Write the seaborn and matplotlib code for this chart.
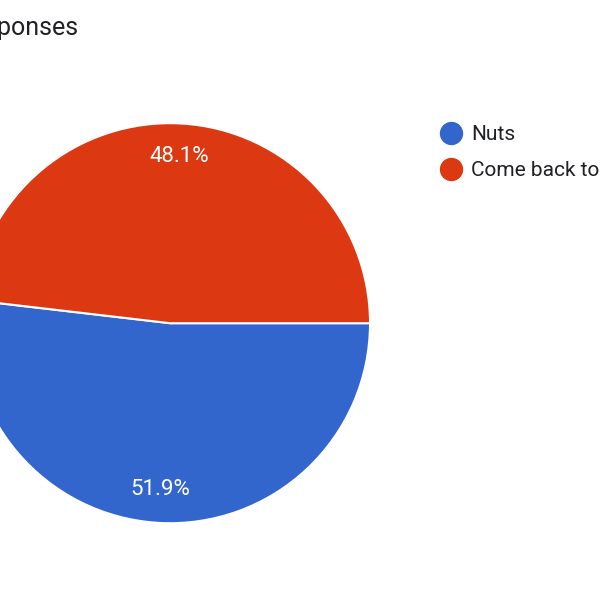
import matplotlib
matplotlib.use("Agg")
import matplotlib.pyplot as plt
from matplotlib.lines import Line2D
import seaborn as sns

# --- Data ---
labels = ["Nuts", "Come back to later"]
counts = [14, 13]  # 51.9% / 48.1% of 27 responses
colors = ["#3366CC", "#DC3912"]
title = "27 responses"

sns.set_theme(style="white")
plt.rcParams["font.family"] = ["Roboto", "DejaVu Sans"]

fig = plt.figure(figsize=(6, 6), dpi=100)
fig.patch.set_facecolor("white")

# pie centre at ~(170, 323) px, radius ~200 px (left side runs off the canvas)
ax = fig.add_axes([-0.05, 0.128, 0.6667, 0.6667])
wedges, texts, autotexts = ax.pie(
    counts,
    colors=colors,
    startangle=0,
    counterclock=False,
    autopct="%.1f%%",
    pctdistance=0.835,
    wedgeprops=dict(edgecolor="white", linewidth=1.5),
    textprops=dict(color="white", fontsize=16),
)
ax.set_xlim(-1, 1)
ax.set_ylim(-1, 1)
ax.set_aspect("equal")
ax.axis("off")

fig.text(78 / 600, 1 - 35 / 600, title, ha="right", va="baseline",
         fontsize=18, color="#202124")

handles = [Line2D([], [], linestyle="none", marker="o", markersize=15.8,
                  markerfacecolor=c, markeredgecolor=c) for c in colors]
fig.legend(handles, labels, loc="upper left",
           bbox_to_anchor=(440.5 / 600, 1 - 125 / 600),
           frameon=False, fontsize=15, handlelength=1.0, handletextpad=0.46,
           labelspacing=0.83, borderpad=0, borderaxespad=0,
           labelcolor="#202124")

fig.savefig("out.png", dpi=100, facecolor="white")
